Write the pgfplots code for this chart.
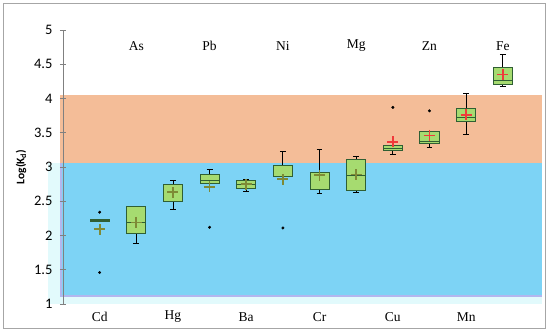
\documentclass[border=0pt]{standalone}
\usepackage{fontspec}
\setmainfont{Carlito}
\newfontfamily\catfont{Liberation Serif}
\usepackage{pgfplots}
\pgfplotsset{compat=1.18}
\usepgfplotslibrary{statistics}
\definecolor{skyb}{HTML}{7DD3F5}
\definecolor{peach}{HTML}{F4BD98}
\definecolor{lav}{HTML}{B3B6EE}
\definecolor{halo}{HTML}{E2FAFC}
\definecolor{boxg}{HTML}{A6DB70}
\definecolor{edgeg}{HTML}{2F5F33}
\definecolor{olivem}{HTML}{7E8A36}
\definecolor{meanred}{HTML}{F03A3A}
\pgfplotsset{
  geom/.style={at={(63pt,27pt)}, anchor=south west, scale only axis,
    width=479pt, height=274pt, xmin=-1, xmax=12.07, ymin=1, ymax=5, clip=false},
  bx/.style n args={6}{boxplot prepared={draw position=#1, lower whisker=#2, lower quartile=#3, median=#4, upper quartile=#5, upper whisker=#6, box extend=0.52, whisker extend=0.16},
    black, mark=*, mark size=1.3pt, mark options={black}},
}
\begin{document}
\begin{tikzpicture}
\useasboundingbox (0,0) rectangle (550pt,331pt);
\draw[gray!70, line width=0.8pt] (3pt,3pt) rectangle (545pt,328pt);
% background bands
\begin{axis}[geom, hide axis]
\fill[halo] (axis cs:-1.4,1.0) rectangle (axis cs:12.07,3.06);
\fill[skyb] (axis cs:-1.08,1.1) rectangle (axis cs:12.07,3.06);
\draw[lav, line width=2.5pt] (axis cs:-1.06,3.06) -- (axis cs:-1.06,1.12) -- (axis cs:12.07,1.12);
\fill[peach] (axis cs:-1.08,3.06) rectangle (axis cs:12.07,4.05);
\end{axis}
\begin{axis}[geom,
  axis lines*=left, separate axis lines,
  x axis line style={draw=none},
  y axis line style={gray, line width=0.7pt},
  xtick={0,2,4,6,8,10},
  xticklabels={Cd,Hg,Ba,Cr,Cu,Mn},
  extra x ticks={1,3,5,7,9,11},
  extra x tick labels={As,Pb,Ni,Mg,Zn,Fe},
  xtick style={draw=none},
  xticklabel style={font=\catfont\fontsize{13.5}{15}\selectfont, anchor=center, yshift=-10pt},
  extra x tick style={xtick style={draw=none}, xticklabel style={font=\catfont\fontsize{13.5}{15}\selectfont, anchor=center, yshift=271pt}},
  ytick={1,1.5,2,2.5,3,3.5,4,4.5,5},
  ytick style={gray, line width=0.7pt},
  tick align=center, major tick length=6pt,
  /pgf/number format/assume math mode=true,
  yticklabel style={font=\fontsize{14.5}{16}\selectfont, xshift=-4pt},
  ylabel={\textbf{Log(K\textsubscript{d})}},
  every axis y label/.style={at={(axis description cs:-0.0875,0.5)}, rotate=90, anchor=center, font=\fontsize{11.5}{13}\selectfont},
  boxplot/draw direction=y,
  boxplot/every box/.style={fill=boxg, draw=edgeg, line width=1pt},
  boxplot/every whisker/.style={black, line width=0.8pt},
  boxplot/every median/.style={edgeg, line width=1.2pt},
]
% boxes: position, lower whisker, lower quartile, median, upper quartile, upper whisker
\addplot[bx={0}{2.21}{2.21}{2.22}{2.23}{2.23}] coordinates {(0,2.34) (0,1.46)};
\addplot[bx={1}{1.88}{2.03}{2.19}{2.42}{2.43}] coordinates {};
\addplot[bx={2}{2.38}{2.50}{2.75}{2.75}{2.80}] coordinates {};
\addplot[bx={3}{2.76}{2.76}{2.80}{2.89}{2.97}] coordinates {(0,2.12)};
\addplot[bx={4}{2.65}{2.68}{2.75}{2.81}{2.82}] coordinates {};
\addplot[bx={5}{2.86}{2.86}{2.86}{3.02}{3.23}] coordinates {(0,2.11)};
\addplot[bx={6}{2.61}{2.67}{2.92}{2.92}{3.25}] coordinates {};
\addplot[bx={7}{2.63}{2.66}{2.87}{3.11}{3.15}] coordinates {};
\addplot[bx={8}{3.18}{3.24}{3.27}{3.31}{3.31}] coordinates {(0,3.87)};
\addplot[bx={9}{3.28}{3.34}{3.37}{3.52}{3.52}] coordinates {(0,3.82)};
\addplot[bx={10}{3.48}{3.66}{3.72}{3.85}{4.07}] coordinates {};
\addplot[bx={11}{4.17}{4.20}{4.26}{4.45}{4.65}] coordinates {};

% means
\addplot[only marks, mark=+, mark size=5.5pt, line width=1.8pt, olivem] coordinates {
  (0,2.09) (1,2.19) (2,2.63) (3,2.71) (4,2.75) (5,2.82) (6,2.88) (7,2.89)};
\addplot[only marks, mark=+, mark size=5.5pt, line width=1.8pt, meanred] coordinates {
  (8,3.37) (9,3.46) (10,3.76) (11,4.35)};
\end{axis}
\end{tikzpicture}
\end{document}
